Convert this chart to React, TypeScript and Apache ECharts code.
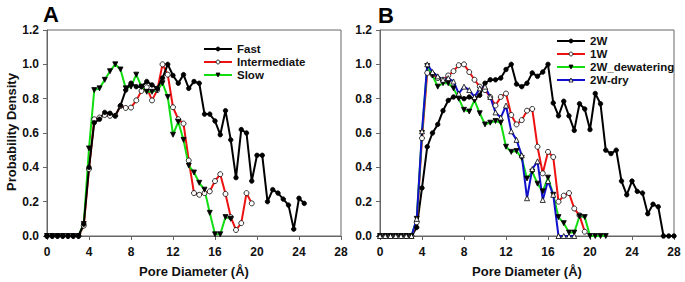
import React, { useEffect, useRef } from "react";
import * as echarts from "echarts";

// Pore diameter grid (Å)
const diameters = [
  0, 0.5, 1, 1.5, 2, 2.5, 3, 3.5, 4, 4.5, 5, 5.5, 6, 6.5, 7, 7.5, 8, 8.5, 9, 9.5,
  10, 10.5, 11, 11.5, 12, 12.5, 13, 13.5, 14, 14.5, 15, 15.5, 16, 16.5, 17, 17.5,
  18, 18.5, 19, 19.5, 20, 20.5, 21, 21.5, 22, 22.5, 23, 23.5, 24, 24.5, 25, 25.5,
  26, 26.5, 27, 27.5, 28,
];

const xTicks = [0, 4, 8, 12, 16, 20, 24, 28];
const yTicks = [0, 0.2, 0.4, 0.6, 0.8, 1.0, 1.2];

// Panel A (values start at diameter 0)
const fastA = [
  0, 0, 0, 0, 0, 0, 0, 0.07, 0.4, 0.66, 0.68, 0.72, 0.715, 0.7, 0.76, 0.85, 0.89, 0.87, 0.87, 0.9,
  0.88, 0.86, 0.92, 1.0, 0.935, 0.89, 0.94, 0.86, 0.9, 0.89, 0.71, 0.71, 0.67, 0.59, 0.73, 0.56,
  0.34, 0.62, 0.6, 0.32, 0.47, 0.47, 0.2, 0.27, 0.25, 0.215, 0.18, 0.04, 0.22, 0.19,
];
const intermediateA = [
  0, 0, 0, 0, 0, 0, 0, 0.06, 0.39, 0.68, 0.69, 0.705, 0.7, 0.7, 0.757, 0.746, 0.748, 0.79, 0.845, 0.866,
  0.79, 0.85, 1.0, 0.94, 0.75, 0.68, 0.655, 0.44, 0.25, 0.24, 0.25, 0.26, 0.32, 0.36, 0.245, 0.11,
  0.035, 0.075, 0.25, 0.19,
];
const slowA = [
  0, 0, 0, 0, 0, 0, 0, 0.07, 0.51, 0.85, 0.86, 0.91, 0.96, 1.0, 0.97, 0.86, 0.87, 0.94, 0.87, 0.84,
  0.84, 0.85, 0.89, 0.81, 0.59, 0.665, 0.56, 0.41, 0.37, 0.31, 0.27, 0.135, 0.01, 0.01, 0.11, 0.1,
];

// Panel B (values start at diameter 0)
const w2B = [
  0, 0, 0, 0, 0, 0, 0, 0.05, 0.28, 0.52, 0.6, 0.65, 0.73, 0.79, 0.81, 0.81, 0.8, 0.81, 0.8, 0.82,
  0.89, 0.91, 0.91, 0.92, 0.97, 1.0, 0.885, 0.87, 0.89, 0.95, 0.93, 0.955, 1.0, 0.775, 0.7, 0.785,
  0.7, 0.615, 0.77, 0.74, 0.62, 0.83, 0.77, 0.5, 0.48, 0.5, 0.32, 0.24, 0.32, 0.26, 0.25, 0.13,
  0.185, 0.17, 0, 0, 0,
];
const w1B = [
  0, 0, 0, 0, 0, 0, 0, 0.08, 0.57, 0.95, 0.94, 0.92, 0.91, 0.935, 0.96, 0.995, 1.0, 0.955, 0.91, 0.87,
  0.85, 0.81, 0.76, 0.81, 0.83, 0.705, 0.65, 0.675, 0.73, 0.74, 0.52, 0.365, 0.49, 0.46, 0.2, 0.235,
  0.25, 0.16, 0.12, 0.025,
];
const dewateringB = [
  0, 0, 0, 0, 0, 0, 0, 0.1, 0.6, 0.99, 0.935, 0.87, 0.89, 0.89, 0.86, 0.8, 0.735, 0.725, 0.79, 0.715,
  0.65, 0.66, 0.67, 0.66, 0.52, 0.49, 0.495, 0.455, 0.335, 0.375, 0.305, 0.26, 0.34, 0.24, 0.11, 0.075,
  0.02, 0.02, 0.115, 0.11, 0, 0, 0, 0,
];
const dryB = [
  0, 0, 0, 0, 0, 0, 0, 0.1, 0.61, 1.0, 0.955, 0.93, 0.91, 0.92, 0.9, 0.83, 0.87, 0.85, 0.81, 0.86,
  0.87, 0.81, 0.72, 0.69, 0.76, 0.61, 0.56, 0.47, 0.22, 0.39, 0.435, 0.21, 0.32, 0.24, 0, 0,
  0, 0,
];

const FONT = "Arial, 'Liberation Sans', sans-serif";

const pairs = (vals: number[]) => vals.map((v, i) => [diameters[i], v]);

type Style = { color: string; symbol: string; fill: string; size: number; rotate?: number };

const STYLES: Record<string, Style> = {
  Fast: { color: "#000000", symbol: "circle", fill: "#000000", size: 4.5 },
  Intermediate: { color: "#ee1111", symbol: "circle", fill: "#ffffff", size: 5 },
  Slow: { color: "#11dd11", symbol: "triangle", fill: "#000000", size: 5, rotate: 180 },
  "2W": { color: "#000000", symbol: "circle", fill: "#000000", size: 4.5 },
  "1W": { color: "#ee1111", symbol: "circle", fill: "#ffffff", size: 5 },
  "2W_dewatering": { color: "#11dd11", symbol: "triangle", fill: "#000000", size: 5, rotate: 180 },
  "2W-dry": { color: "#1111cc", symbol: "triangle", fill: "#ffffff", size: 5 },
};

function makeSeries(name: string, vals: number[], idx: number) {
  const s = STYLES[name];
  return {
    name,
    type: "line",
    xAxisIndex: idx,
    yAxisIndex: idx,
    data: pairs(vals),
    symbol: s.symbol,
    symbolSize: s.size,
    symbolRotate: s.rotate ?? 0,
    showAllSymbol: true,
    lineStyle: { color: s.color, width: 2 },
    itemStyle: { color: s.fill, borderColor: "#000000", borderWidth: 0.8 },
    emphasis: { disabled: true },
  };
}

function axisPair(idx: number) {
  const common = {
    gridIndex: idx,
    type: "value",
    axisLine: { show: true, lineStyle: { color: "#666", width: 1 } },
    axisTick: { show: true, inside: false, length: 4, lineStyle: { color: "#666" } },
    splitLine: { show: false },
    axisLabel: { color: "#111", fontSize: 12, fontWeight: "bold", fontFamily: FONT },
  };
  return {
    x: {
      ...common,
      min: xTicks[0],
      max: xTicks[xTicks.length - 1],
      interval: xTicks[1] - xTicks[0],
      axisLabel: { ...common.axisLabel, margin: 10 },
    },
    y: {
      ...common,
      min: yTicks[0],
      max: yTicks[yTicks.length - 1],
      interval: 0.2,
      axisLabel: {
        ...common.axisLabel,
        margin: 8,
        formatter: (v: number) => v.toFixed(1),
      },
    },
  };
}

export default function App() {
  const ref = useRef<HTMLDivElement>(null);
  useEffect(() => {
    document.body.style.margin = "0";
    if (!ref.current) return;
    const chart = echarts.init(ref.current, undefined, { renderer: "svg" });
    const a = axisPair(0);
    const b = axisPair(1);
    const legendText = { fontSize: 11.5, fontWeight: "bold", fontFamily: FONT, color: "#111" };
    const legendCommon = {
      orient: "vertical",
      itemWidth: 28,
      itemHeight: 5,
      itemGap: 1,
      padding: 0,
      textStyle: legendText,
      itemStyle: { borderWidth: 0.8 },
      lineStyle: { width: 2 },
      selectedMode: false,
    };
    const nameStyle = {
      fontSize: 13,
      fontWeight: "bold",
      fontFamily: FONT,
      fill: "#111",
      textAlign: "center",
      textVerticalAlign: "middle",
    };
    chart.setOption({
      animation: false,
      backgroundColor: "#ffffff",
      grid: [
        { left: 47, top: 30, width: 294, height: 206, show: true, borderColor: "#666", borderWidth: 1 },
        { left: 380, top: 30, width: 294, height: 206, show: true, borderColor: "#666", borderWidth: 1 },
      ],
      xAxis: [a.x, b.x],
      yAxis: [a.y, b.y],
      legend: [
        { ...legendCommon, data: ["Fast", "Intermediate", "Slow"], left: 203, top: 43 },
        { ...legendCommon, data: ["2W", "1W", "2W_dewatering", "2W-dry"], left: 556, top: 35 },
      ],
      graphic: [
        {
          type: "text",
          x: 43,
          y: 3,
          style: { text: "A", fontSize: 22, fontWeight: "bold", fontFamily: FONT, fill: "#000" },
        },
        {
          type: "text",
          x: 378,
          y: 4,
          style: { text: "B", fontSize: 22, fontWeight: "bold", fontFamily: FONT, fill: "#000" },
        },
        { type: "text", x: 194, y: 271, style: { ...nameStyle, text: "Pore Diameter (Å)" } },
        { type: "text", x: 527, y: 271, style: { ...nameStyle, text: "Pore Diameter (Å)" } },
        {
          type: "text",
          x: 11,
          y: 132,
          rotation: Math.PI / 2,
          style: { ...nameStyle, text: "Probability Density" },
        },
      ],
      series: [
        makeSeries("Intermediate", intermediateA, 0),
        makeSeries("Slow", slowA, 0),
        makeSeries("Fast", fastA, 0),
        makeSeries("2W", w2B, 1),
        makeSeries("1W", w1B, 1),
        makeSeries("2W_dewatering", dewateringB, 1),
        makeSeries("2W-dry", dryB, 1),
      ],
    });
    return () => chart.dispose();
  }, []);
  return <div ref={ref} style={{ width: 685, height: 282 }} />;
}
